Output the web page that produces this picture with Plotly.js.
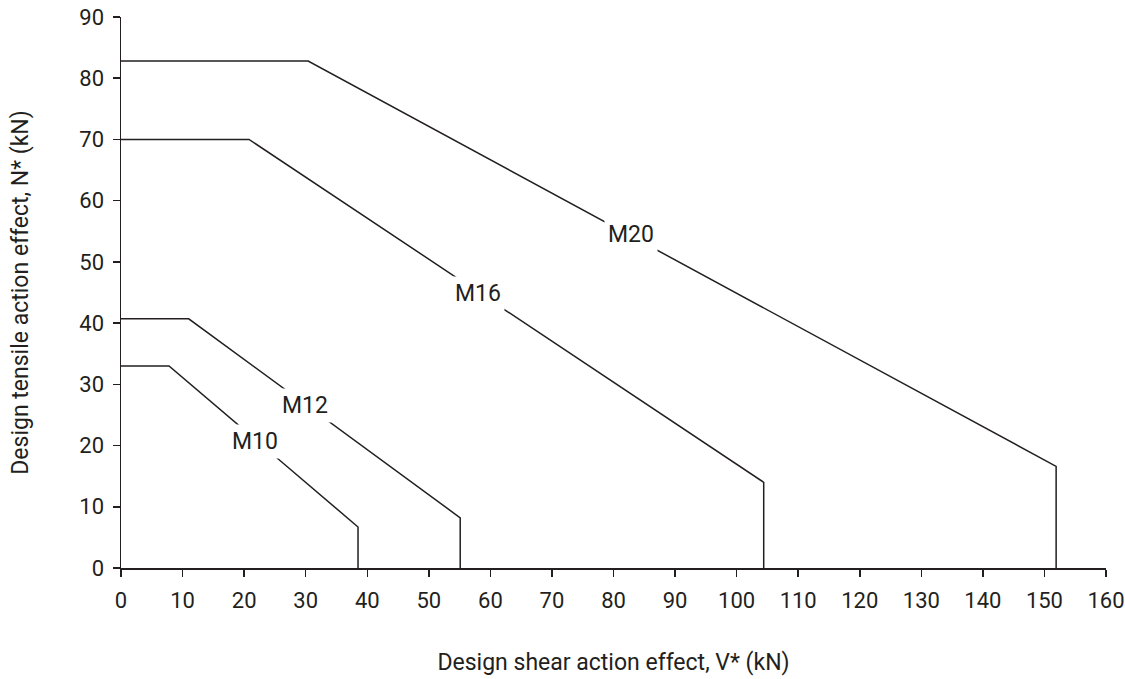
<!DOCTYPE html>
<html><head><meta charset="utf-8">
<script src="https://cdn.plot.ly/plotly-3.0.1.min.js"></script>
<style>html,body{margin:0;padding:0;background:#fff}</style>
</head><body>
<div id="chart" style="width:1125px;height:679px"></div>
<script>
var seriesNames = ["M10", "M12", "M16", "M20"];
var m10_x = [0, 7.8, 38.5, 38.5];
var m10_y = [33, 33, 6.7, 0];
var m12_x = [0, 11, 55.1, 55.1];
var m12_y = [40.7, 40.7, 8.2, 0];
var m16_x = [0, 20.8, 104.4, 104.4];
var m16_y = [70, 70, 14, 0];
var m20_x = [0, 30.4, 151.9, 151.9];
var m20_y = [82.8, 82.8, 16.6, 0];
var labelX = [21.8, 29.9, 58.0, 82.8];
var labelY = [20.6, 26.5, 44.9, 54.4];

var xs = [m10_x, m12_x, m16_x, m20_x];
var ys = [m10_y, m12_y, m16_y, m20_y];
var FONT = 'Roboto, "Liberation Sans", Arial, sans-serif';

var traces = seriesNames.map(function(n, i){
  return {x: xs[i], y: ys[i], mode: 'lines', name: n, line: {color: '#231f20', width: 1.5}, hoverinfo: 'skip'};
});
var annotations = seriesNames.map(function(n, i){
  return {x: labelX[i], y: labelY[i], text: n, showarrow: false, bgcolor: '#fff', borderpad: 3,
          font: {family: FONT, size: 23, color: '#231f20'}};
});

var layout = {
  width: 1125, height: 679,
  margin: {l: 121, r: 19, t: 17, b: 111},
  paper_bgcolor: '#fff', plot_bgcolor: '#fff',
  showlegend: false,
  font: {family: FONT, size: 23, color: '#231f20'},
  xaxis: {range: [0, 160], dtick: 10, tick0: 0, showgrid: false, zeroline: false,
          showline: true, linecolor: '#231f20', linewidth: 1.5,
          ticks: 'outside', ticklen: 7, tickwidth: 1.5, tickcolor: '#231f20',
          ticklabelstandoff: 5,
          tickfont: {family: FONT, size: 22, color: '#231f20'},
          title: {text: 'Design shear action effect, V* (kN)', standoff: 42, font: {family: FONT, size: 23, color: '#231f20'}}},
  yaxis: {range: [0, 90], dtick: 10, tick0: 0, showgrid: false, zeroline: false,
          showline: true, linecolor: '#231f20', linewidth: 1.5,
          ticks: 'outside', ticklen: 7, tickwidth: 1.5, tickcolor: '#231f20',
          ticklabelstandoff: 4,
          tickfont: {family: FONT, size: 22, color: '#231f20'},
          title: {text: 'Design tensile action effect, N* (kN)', standoff: 44, font: {family: FONT, size: 23, color: '#231f20'}}},
  annotations: annotations
};
Plotly.newPlot('chart', traces, layout, {displayModeBar: false, staticPlot: true});
</script>
</body></html>
